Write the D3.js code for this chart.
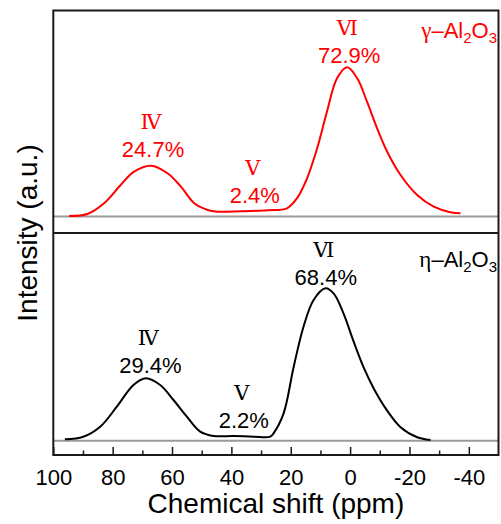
<!DOCTYPE html>
<html><head><meta charset="utf-8">
<script src="https://cdn.jsdelivr.net/npm/d3@7"></script>
<style>body{margin:0;background:#fff}svg{display:block}</style>
</head><body>
<svg id="c" width="501" height="524"></svg>
<script>
// ---- data (ppm, intensity a.u.) ----
const gammaShift = [94.7,88.5,82.9,77.3,72.8,67.1,61.5,57.0,52.5,48.0,44.7,36.8,27.8,21.3,17.9,14.5,11.1,7.8,4.4,1.0,-2.4,-5.7,-9.1,-12.5,-17.0,-22.6,-28.2,-33.8,-37.2];
const gammaInt   = [0.5,2.5,13.2,31.5,44.8,50.8,43.2,29.8,13.2,6.5,4.8,5.2,6.2,8.2,18.2,38.2,68.2,104.8,138.2,149.2,138.2,114.8,88.2,64.8,41.5,21.5,9.8,4.2,3.2];
const etaShift = [96.1,89.9,84.2,78.6,73.0,68.8,64.0,59.5,55.0,50.5,46.0,39.3,32.5,26.9,25.8,22.4,19.0,15.7,12.3,8.3,5.5,2.2,-1.2,-4.6,-8.0,-12.5,-17.0,-22.6,-27.1];
const etaInt   = [1.4,4.0,14.0,34.0,55.7,62.4,55.7,40.7,24.0,9.0,4.7,4.7,4.0,4.0,7.4,27.4,74.0,114.0,140.7,152.4,147.0,127.0,99.0,73.0,52.0,30.0,13.5,3.4,0.7];
const gammaLabels = [{site:"Ⅳ", pct:"24.7%", at:66.4, h:55.8}, {site:"Ⅴ", pct:"2.4%", at:32.1, h:9.2}, {site:"Ⅵ", pct:"72.9%", at:0.3, h:149.2}];
const etaLabels   = [{site:"Ⅳ", pct:"29.4%", at:67.3, h:64}, {site:"Ⅴ", pct:"2.2%", at:35.8, h:8.4}, {site:"Ⅵ", pct:"68.4%", at:8.2, h:151.7}];
const majorTicks = [100,80,60,40,20,0,-20,-40];
const minorTicks = [90,70,50,30,10,-10,-30];

const svg = d3.select("#c");
const L=53.3, R=498.5, T=10.5, B=455, MID=233;
const x = d3.scaleLinear().domain([100,-50]).range([L, R]);
const yTop = d3.scaleLinear().domain([0,150]).range([216.5, 66.5]);
const yBot = d3.scaleLinear().domain([0,150]).range([440.7, 290.7]);
const sans = "'Liberation Sans', Arial, sans-serif";
const serif = "'Liberation Serif','DejaVu Serif','Times New Roman',serif";

// gray baselines
[yTop(0), yBot(0)].forEach(yy => svg.append("line").attr("x1",L).attr("x2",R).attr("y1",yy).attr("y2",yy)
  .attr("stroke","#9a9a9a").attr("stroke-width",2));

function curve(sx, si, ys, col){
  const pts = sx.map((s,i)=>[s, si[i]]);
  const line = d3.line().x(d=>x(d[0])).y(d=>ys(d[1])).curve(d3.curveCatmullRom.alpha(0.5));
  svg.append("path").attr("d", line(pts)).attr("fill","none").attr("stroke",col).attr("stroke-width",2);
}
curve(gammaShift, gammaInt, yTop, "#ff0000");
curve(etaShift, etaInt, yBot, "#000000");

function labels(arr, ys, col){
  arr.forEach(d=>{
    const cx = x(d.at), py = ys(d.h) - 4;
    svg.append("text").attr("x",cx).attr("y",py).attr("text-anchor","middle")
      .attr("font-family",sans).attr("font-size",22).attr("fill",col).text(d.pct);
    svg.append("text").attr("x",cx-2).attr("y",py-28).attr("text-anchor","middle")
      .attr("font-family",serif).attr("font-size",21).attr("fill",col).text(d.site);
  });
}
labels(gammaLabels, yTop, "#ff0000");
labels(etaLabels, yBot, "#000000");

function formula(greek, yy, col){
  const t = svg.append("text").attr("x",497).attr("y",yy).attr("text-anchor","end")
    .attr("font-family",sans).attr("font-size",22).attr("fill",col);
  t.append("tspan").attr("font-family",serif).attr("font-size",23).text(greek);
  t.append("tspan").text("–Al");
  t.append("tspan").attr("font-size",15).attr("dy",5).text("2");
  t.append("tspan").attr("dy",-5).text("O");
  t.append("tspan").attr("font-size",15).attr("dy",5).text("3");
}
formula("γ", 38, "#ff0000");
formula("η", 267, "#000000");

// frame
svg.append("rect").attr("x",L).attr("y",T).attr("width",R-L).attr("height",B-T)
  .attr("fill","none").attr("stroke","#1a1a1a").attr("stroke-width",2);
svg.append("line").attr("x1",L).attr("x2",R).attr("y1",MID).attr("y2",MID).attr("stroke","#1a1a1a").attr("stroke-width",2);

// x axis with inward ticks
const ax = svg.append("g").attr("transform",`translate(0,${B})`);
ax.call(d3.axisBottom(x).tickValues(majorTicks).tickSize(-8).tickFormat(d => String(d)));
ax.select(".domain").remove();
ax.selectAll(".tick line").attr("stroke","#1a1a1a").attr("stroke-width",1.5);
ax.selectAll(".tick text").attr("font-family",sans).attr("font-size",22).attr("fill","#000")
  .attr("dy",0).attr("y",30);
const axm = svg.append("g").attr("transform",`translate(0,${B})`);
axm.call(d3.axisBottom(x).tickValues(minorTicks).tickSize(-4.5).tickFormat(""));
axm.select(".domain").remove();
axm.selectAll(".tick line").attr("stroke","#1a1a1a").attr("stroke-width",1.5);

svg.append("text").attr("x",(L+R)/2).attr("y",513).attr("text-anchor","middle")
  .attr("font-family",sans).attr("font-size",28).attr("fill","#000").text("Chemical shift (ppm)");
svg.append("text").attr("transform","translate(37,233) rotate(-90)").attr("text-anchor","middle")
  .attr("font-family",sans).attr("font-size",28).attr("fill","#000").text("Intensity (a.u.)");
</script>
</body></html>
